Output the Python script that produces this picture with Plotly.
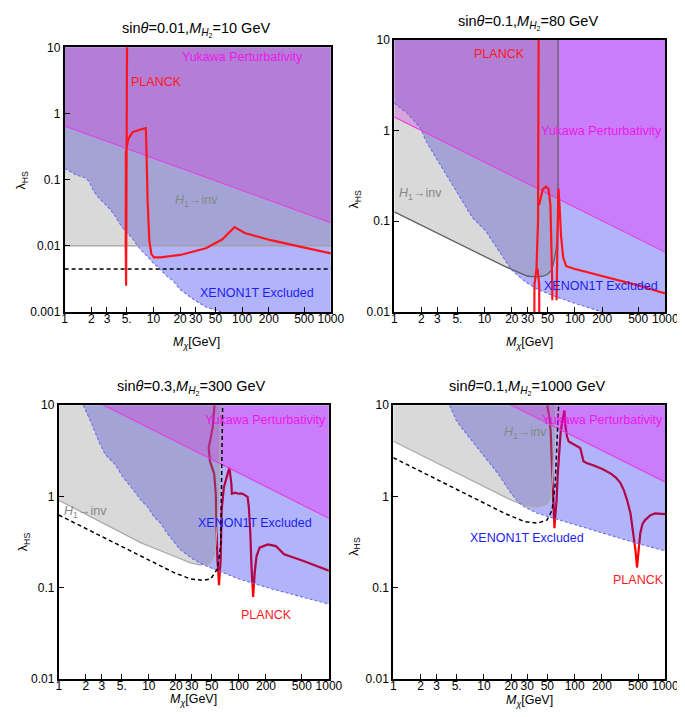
import plotly.graph_objects as go

W, H = 685, 717
FONT = "Liberation Sans, Arial, sans-serif"

# ---------------- axis ticks ----------------
X_TICKS = [1, 2, 3, 5, 10, 20, 30, 50, 100, 200, 500, 1000]
X_TICK_TEXT = ['1', '2', '3', '5.', '10', '20', '30', '50', '100', '200', '500', '1000']
Y_TICKS = [0.001, 0.01, 0.1, 1, 10]
Y_TICK_TEXT = ['0.001', '0.01', '0.1', '1', '10']

TITLES = [
    "sin<i>θ</i>=0.01,<i>M</i><sub><i>H</i><sub>2</sub></sub>=10 GeV",
    "sin<i>θ</i>=0.1,<i>M</i><sub><i>H</i><sub>2</sub></sub>=80 GeV",
    "sin<i>θ</i>=0.3,<i>M</i><sub><i>H</i><sub>2</sub></sub>=300 GeV",
    "sin<i>θ</i>=0.1,<i>M</i><sub><i>H</i><sub>2</sub></sub>=1000 GeV",
]

# ---------------- panel 1: sin=0.01, MH2=10 ----------------
P1_XENON_M = [1, 1.34, 1.73, 1.88, 2.13, 2.42, 3.12, 3.69, 4.19, 4.75, 5.62, 7.24, 8.57, 10,
              12.0, 14.2, 16.8, 19.9, 23.5, 27.9, 39.1, 59.5, 100, 1000]
P1_XENON_L = [0.149, 0.119, 0.106, 0.0945, 0.0671, 0.0535, 0.038, 0.0286, 0.0216, 0.0172, 0.0137,
              0.00867, 0.00691, 0.00551, 0.00439, 0.00349, 0.00294, 0.00222, 0.00187, 0.00158,
              0.00119, 0.001, 0.0008, 0.0004]
P1_YUKAWA_M = [1, 1000]
P1_YUKAWA_L = [0.65, 0.0224]
P1_INV_M = [1, 1000]
P1_INV_L = [0.01, 0.01]
P1_DASH_M = [1, 1000]
P1_DASH_L = [0.00449, 0.00449]
P1_PLANCK_M = [5.05, 5.03, 4.98, 4.93, 4.88, 4.85, 4.9, 5.2, 5.8, 7.0, 8.22, 8.35, 8.6, 9.0, 9.5,
               10.15, 12, 20, 39, 59.5, 82, 107, 210, 490, 1000]
P1_PLANCK_L = [12, 1, 0.1, 0.0025, 0.01, 0.1, 0.26, 0.41, 0.52, 0.57, 0.6, 0.3, 0.05, 0.012,
               0.0075, 0.0067, 0.0067, 0.0073, 0.0092, 0.0125, 0.0192, 0.0157, 0.0122, 0.0095, 0.0077]

# ---------------- panel 2: sin=0.1, MH2=80 ----------------
P2_XENON_M = [1, 1.39, 1.94, 2.29, 2.94, 3.77, 4.83, 6.2, 7.32, 10.2, 12.0, 14.2, 19.8, 27.6,
              38.4, 58.2, 88, 202, 1000]
P2_XENON_L = [1.99, 1.55, 1.07, 0.738, 0.488, 0.323, 0.213, 0.141, 0.110, 0.079, 0.0617, 0.0481,
              0.0293, 0.0219, 0.0178, 0.0151, 0.0130, 0.010, 0.0065]
P2_YUKAWA_M = [1, 1000]
P2_YUKAWA_L = [1.40, 0.0454]
P2_INV_M = [1, 16.7, 30, 38.4, 45, 49.4, 55, 58, 61, 63, 64.5, 65, 65]
P2_INV_L = [0.127, 0.0318, 0.0248, 0.0244, 0.025, 0.0259, 0.029, 0.0347, 0.045, 0.0568, 0.1, 0.3, 10]
P2_PLANCK_M = [39.6, 39.4, 39.0, 37.5, 35.6, 35.5, None, 38.5, 40.2, 40.3, None,
               40, 41.5, 44, 48, 51, 53.5, 55, 55.8, 56.2, None,
               62.5, 63.2, 64.0, 64.8, 65.5, 67.5, 70, 74, 80, 100, 200, 500, 1000]
P2_PLANCK_L = [12, 1, 0.1, 0.03, 0.02, 0.005, None, 0.03, 0.02, 0.005, None,
               0.15, 0.18, 0.225, 0.24, 0.225, 0.15, 0.06, 0.025, 0.0135, None,
               0.0135, 0.03, 0.08, 0.2, 0.23, 0.15, 0.07, 0.04, 0.032, 0.0298, 0.0248, 0.0197, 0.016]

# ---------------- panel 3: sin=0.3, MH2=300 ----------------
P3_XENON_M = [1.87, 2.35, 2.78, 3.28, 4.21, 4.97, 5.19, 6.38, 8.19, 9.68, 11.4, 13.5, 15.9, 18.8,
              22.2, 26.2, 31.0, 43.2, 65.5, 99, 228, 1000]
P3_XENON_L = [10, 6.09, 4.03, 2.89, 2.25, 1.76, 1.62, 1.26, 0.908, 0.769, 0.600, 0.508, 0.397, 0.323,
              0.262, 0.232, 0.205, 0.173, 0.147, 0.125, 0.0973, 0.0659]
P3_YUKAWA_M = [1, 1000]
P3_YUKAWA_L = [17.7, 0.575]
P3_INV_M = [1, 8.2, 18.8, 28.5, 36.6, 47, 53, 55.5, 57.5, 59.5, 61.5, 62.5]
P3_INV_L = [0.908, 0.31, 0.222, 0.188, 0.178, 0.182, 0.222, 0.3, 0.5, 1, 3, 10]
P3_DASH_M = [1, 8.2, 18.8, 28.5, 39.8, 48.8, 57.8, 62.8, 64.3, 66]
P3_DASH_L = [0.625, 0.222, 0.147, 0.125, 0.12, 0.125, 0.16, 0.285, 1.07, 10]
P3_PLANCK_M = [54.5, 51, 46.2, 47.7, 53.2, 55.4, 56.4, 57.8, 60.2, 62.8, 64.4, 68.2, 74.1, 78.5,
               82.6, 83.7, 91.2, 99, 108, 117, 125, 129, 134, 138, 144, 150, 157, 170, 210, 258,
               292, 318, 523, 1000]
P3_PLANCK_L = [12, 5.6, 3.4, 2.45, 1.76, 1.07, 0.47, 0.205, 0.106, 0.205, 0.71, 1.26, 1.69, 2.07,
               1.37, 1.07, 1.1, 1.07, 1.08, 1.03, 0.99, 0.77, 0.4, 0.173, 0.079, 0.147, 0.22, 0.274,
               0.297, 0.285, 0.252, 0.232, 0.196, 0.153]

# ---------------- panel 4: sin=0.1, MH2=1000 ----------------
P4_XENON_M = [4.18, 4.93, 5.35, 6.31, 7.45, 8.78, 10.4, 12.2, 14.4, 17.0, 20.1, 23.7, 27.9, 38.9,
              58.7, 88.7, 203, 463, 1000]
P4_XENON_L = [10, 6.89, 6.09, 4.95, 4.03, 3.27, 2.66, 2.16, 1.76, 1.37, 1.07, 0.871, 0.769, 0.652,
              0.575, 0.508, 0.397, 0.310, 0.252]
P4_YUKAWA_M = [1, 1000]
P4_YUKAWA_L = [44.4, 1.43]
P4_INV_M = [1, 20.1, 27.9, 38.9, 49.7, 54.2, 56.5, 58.5, 61, 62.5]
P4_INV_L = [4.03, 0.908, 0.80, 0.77, 0.82, 0.99, 1.4, 2.5, 5, 10]
P4_DASH_M = [1, 7.45, 17, 27.9, 38.9, 49.7, 56.4, 61, 66.5]
P4_DASH_L = [2.66, 0.986, 0.65, 0.53, 0.508, 0.552, 0.708, 1.37, 10]
P4_PLANCK_M = [47, 50, 53, 54.5, 55.8, 56.9, 58.5, 59.3, 59.9, 61, 63.2, 65, 67.1, 70, 72.8, 77.1,
               79, 82.4, 85.9, 93.3, 105, 115, 119, 125, 135, 160, 205, 250, 285, 320, 350, 380,
               413, 449, 470, 487, 505, 529, 560, 598, 680, 767, 1000]
P4_PLANCK_L = [12, 10, 7, 5, 2.5, 1.37, 0.7, 0.55, 0.448, 0.6, 0.9, 1.7, 3.12, 5, 6.56, 8.76,
               6, 4.53, 4.0, 3.83, 3.6, 3.39, 3.0, 2.43, 2.33, 2.2, 1.98, 1.78, 1.61, 1.4, 1.16, 0.9,
               0.65, 0.364, 0.25, 0.166, 0.25, 0.395, 0.5, 0.55, 0.62, 0.65, 0.64]

# label positions (log10 M, log10 lambda) per panel
LABELS = [
    [("Yukawa Perturbativity", 2.0, 0.856, 'm'), ("PLANCK", 1.033, 0.471, 'r'),
     ("<i>H</i><sub>1</sub>→inv", 1.484, -1.321, 'g'), ("XENON1T Excluded", 2.165, -2.714, 'b')],
    [("PLANCK", 1.165, 0.838, 'r'), ("Yukawa Perturbativity", 2.298, -0.004, 'm'),
     ("<i>H</i><sub>1</sub>→inv", 0.291, -0.705, 'g'), ("XENON1T Excluded", 2.288, -1.709, 'b')],
    [("Yukawa Perturbativity", 2.296, 0.842, 'm'), ("<i>H</i><sub>1</sub>→inv", 0.292, -0.172, 'g'),
     ("XENON1T Excluded", 2.177, -0.29, 'b'), ("PLANCK", 2.307, -1.303, 'r')],
    [("Yukawa Perturbativity", 2.304, 0.842, 'm'), ("<i>H</i><sub>1</sub>→inv", 1.453, 0.691, 'g'),
     ("XENON1T Excluded", 1.475, -0.452, 'b'), ("PLANCK", 2.702, -0.915, 'r')],
]
LABEL_COLORS = {'m': 'rgb(235,25,235)', 'r': 'rgb(255,25,35)', 'g': 'rgb(135,135,135)',
                'b': 'rgb(30,30,240)'}

# ---------------- layout geometry (pixels) ----------------
FRAMES = [(55, 328, 33, 303), (393, 671, 25, 303), (49, 326, 398, 677), (392, 671, 398, 677)]
Y_RANGES = [[-3, 1], [-2, 1], [-2, 1], [-2, 1]]
TITLE_POS = [(190, 15), (530, 8), (185, 380), (530, 380)]
XTITLE_POS = [(190, 335), (532, 335), (187, 699), (532, 700)]
YTITLE_POS = [(11, 168), (353, 188), (13, 537), (353, 542)]

BLUE_FILL = 'rgba(0,5,240,0.30)'
MAG_FILL = 'rgba(255,0,255,0.30)'
GRAY_FILL = 'rgba(130,130,130,0.30)'

PANELS = [
    dict(xen=(P1_XENON_M, P1_XENON_L), yuk=(P1_YUKAWA_M, P1_YUKAWA_L), inv=(P1_INV_M, P1_INV_L),
         dash=(P1_DASH_M, P1_DASH_L), planck=(P1_PLANCK_M, P1_PLANCK_L), under=False,
         invline='rgb(160,160,160)'),
    dict(xen=(P2_XENON_M, P2_XENON_L), yuk=(P2_YUKAWA_M, P2_YUKAWA_L), inv=(P2_INV_M, P2_INV_L),
         dash=None, planck=(P2_PLANCK_M, P2_PLANCK_L), under=False, invline='rgb(95,95,95)'),
    dict(xen=(P3_XENON_M, P3_XENON_L), yuk=(P3_YUKAWA_M, P3_YUKAWA_L), inv=(P3_INV_M, P3_INV_L),
         dash=(P3_DASH_M, P3_DASH_L), planck=(P3_PLANCK_M, P3_PLANCK_L), under=True,
         invline='rgb(170,170,170)'),
    dict(xen=(P4_XENON_M, P4_XENON_L), yuk=(P4_YUKAWA_M, P4_YUKAWA_L), inv=(P4_INV_M, P4_INV_L),
         dash=(P4_DASH_M, P4_DASH_L), planck=(P4_PLANCK_M, P4_PLANCK_L), under=True,
         invline='rgb(170,170,170)'),
]

TOP = 100  # closing height of "above" regions (beyond the axis range, clipped)


def region_above(ms, ls):
    xs = list(ms) + [ms[-1], ms[0], ms[0]]
    ys = list(ls) + [TOP, TOP, ls[0]]
    return xs, ys


fig = go.Figure()
layout = dict(width=W, height=H, margin=dict(l=0, r=0, t=0, b=0),
              paper_bgcolor='white', plot_bgcolor='white', showlegend=False,
              font=dict(family=FONT, size=12, color='black'), hovermode=False)
annotations = []

for i, p in enumerate(PANELS):
    n = '' if i == 0 else str(i + 1)
    xr, yr = 'x' + n, 'y' + n
    L, R, T, B = FRAMES[i]

    def add(ms, ls, **kw):
        fig.add_trace(go.Scatter(x=ms, y=ls, xaxis=xr, yaxis=yr, mode='lines', **kw))

    if p['under']:
        add(*p['planck'], line=dict(color='rgb(255,0,0)', width=2.2))
    xs, ys = region_above(*p['xen'])
    add(xs, ys, fill='toself', fillcolor=BLUE_FILL, line=dict(width=0))
    xs, ys = region_above(*p['yuk'])
    add(xs, ys, fill='toself', fillcolor=MAG_FILL, line=dict(width=0))
    xs, ys = region_above(*p['inv'])
    add(xs, ys, fill='toself', fillcolor=GRAY_FILL, line=dict(width=0))
    add(*p['inv'], line=dict(color=p['invline'], width=1.3))
    add(*p['xen'], line=dict(color='rgb(110,110,235)', width=1.1, dash='3px,2px'))
    add(*p['yuk'], line=dict(color='rgb(230,60,230)', width=1.1))
    if p['dash'] is not None:
        add(*p['dash'], line=dict(color='black', width=1.5, dash='4px,3px'))
    if not p['under']:
        add(*p['planck'], line=dict(color='rgb(255,20,30)', width=2.2))

    common = dict(type='log', tickmode='array', ticks='inside', ticklen=5, tickwidth=1.3,
                  tickcolor='black', showline=True, mirror=True, linecolor='black',
                  linewidth=1.8, showgrid=False, zeroline=False, tickangle=0,
                  tickfont=dict(size=12, family=FONT, color='black'))
    layout['xaxis' + n] = dict(range=[0, 3], domain=[L / W, R / W], anchor=yr,
                               tickvals=X_TICKS, ticktext=X_TICK_TEXT,
                               ticklabelstandoff=-5, **common)
    layout['yaxis' + n] = dict(range=Y_RANGES[i], domain=[1 - B / H, 1 - T / H], anchor=xr,
                               tickvals=Y_TICKS, ticktext=Y_TICK_TEXT, **common)

    for text, lx, ly, c in LABELS[i]:
        annotations.append(dict(text=text, x=lx, y=ly, xref=xr, yref=yr, showarrow=False,
                                xanchor='center', yanchor='middle',
                                font=dict(size=12.5, family=FONT, color=LABEL_COLORS[c])))

    tx, ty = TITLE_POS[i]
    annotations.append(dict(text=TITLES[i], x=tx / W, y=1 - ty / H, xref='paper', yref='paper',
                            showarrow=False, xanchor='center', yanchor='middle',
                            font=dict(size=14.5, family=FONT, color='black')))
    ax, ay = XTITLE_POS[i]
    annotations.append(dict(text="<i>M</i><sub><i>χ</i></sub>[GeV]", x=ax / W, y=1 - ay / H,
                            xref='paper', yref='paper', showarrow=False,
                            xanchor='center', yanchor='middle',
                            font=dict(size=12.5, family=FONT, color='black')))
    yx, yy = YTITLE_POS[i]
    annotations.append(dict(text="λ<sub>HS</sub>", x=yx / W, y=1 - yy / H,
                            xref='paper', yref='paper', showarrow=False, textangle=-90,
                            xanchor='center', yanchor='middle',
                            font=dict(size=12.5, family=FONT, color='black')))

layout['annotations'] = annotations
fig.update_layout(**layout)
fig.write_html("out.html")
